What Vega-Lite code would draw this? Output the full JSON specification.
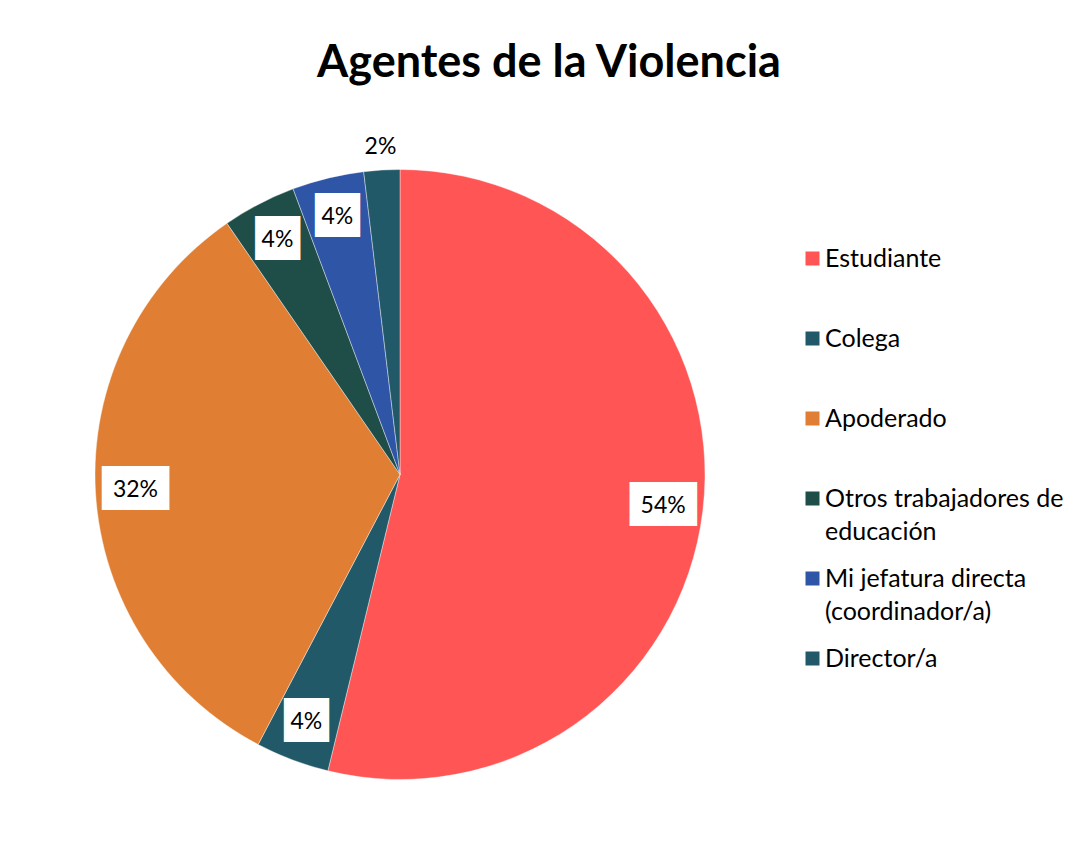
{
  "$schema": "https://vega.github.io/schema/vega-lite/v6.json",
  "width": 800,
  "height": 949,
  "autosize": {"type": "none"},
  "padding": {"left": 0, "top": 0, "right": 278, "bottom": 0},
  "background": "white",
  "title": {"text": "Agentes de la Violencia", "font": "Lato", "fontSize": 45, "fontWeight": "bold", "color": "black", "anchor": "middle", "frame": "group", "baseline": "alphabetic", "offset": 0, "dy": 122, "dx": 149},
  "data": {"values": [
    {"orden": 1, "agente": "Estudiante", "valor": 53.8, "etiqueta": "54%"},
    {"orden": 2, "agente": "Colega", "valor": 3.9, "etiqueta": "4%"},
    {"orden": 3, "agente": "Apoderado", "valor": 32.7, "etiqueta": "32%"},
    {"orden": 4, "agente": "Otros trabajadores de educación", "valor": 3.9, "etiqueta": "4%"},
    {"orden": 5, "agente": "Mi jefatura directa (coordinador/a)", "valor": 3.8, "etiqueta": "4%"},
    {"orden": 6, "agente": "Director/a", "valor": 1.9, "etiqueta": "2%"}
  ]},
  "encoding": {
    "theta": {"field": "valor", "type": "quantitative", "stack": true},
    "order": {"field": "orden", "type": "quantitative"}
  },
  "layer": [
    {
      "mark": {"type": "arc", "outerRadius": 305, "stroke": "white", "strokeWidth": 0.4},
      "encoding": {
        "color": {
          "field": "agente", "type": "nominal",
          "sort": ["Estudiante", "Colega", "Apoderado", "Otros trabajadores de educación", "Mi jefatura directa (coordinador/a)", "Director/a"],
          "scale": {
            "domain": ["Estudiante", "Colega", "Apoderado", "Otros trabajadores de educación", "Mi jefatura directa (coordinador/a)", "Director/a"],
            "range": ["#FF5555", "#215968", "#E07F34", "#1E4E47", "#2F55A6", "#215968"]
          },
          "legend": {
            "title": null, "orient": "none", "legendX": 800, "legendY": 246,
            "symbolType": "square", "symbolSize": 196, "symbolStrokeWidth": 0,
            "labelFont": "Lato", "labelFontSize": 25, "labelColor": "black", "labelOffset": 0,
            "rowPadding": 21, "labelLimit": 300,
            "labelExpr": "datum.label == 'Otros trabajadores de educación' ? ['Otros trabajadores de', 'educación'] : datum.label == 'Mi jefatura directa (coordinador/a)' ? ['Mi jefatura directa', '(coordinador/a)'] : [datum.label, '']"
          }
        }
      }
    },
    {
      "mark": {"type": "text", "radius": 265, "font": "DejaVu Sans Mono", "fontSize": 37, "color": "white"},
      "encoding": {
        "text": {"condition": [{"test": "datum.etiqueta == '2%'", "value": ""}, {"test": "length(datum.etiqueta) > 2", "value": "███"}], "value": "██"}
      }
    },
    {
      "mark": {"type": "text", "radius": 265, "font": "Lato", "fontSize": 23, "color": "black"},
      "encoding": {
        "text": {"condition": {"test": "datum.etiqueta == '2%'", "value": ""}, "field": "etiqueta", "type": "nominal"}
      }
    },
    {
      "mark": {"type": "text", "radius": 328, "font": "Lato", "fontSize": 23, "color": "black"},
      "encoding": {
        "text": {"condition": {"test": "datum.etiqueta != '2%'", "value": ""}, "field": "etiqueta", "type": "nominal"}
      }
    }
  ],
  "config": {"view": {"stroke": null}, "style": {"guide-label": {"lineHeight": 33}}}
}
